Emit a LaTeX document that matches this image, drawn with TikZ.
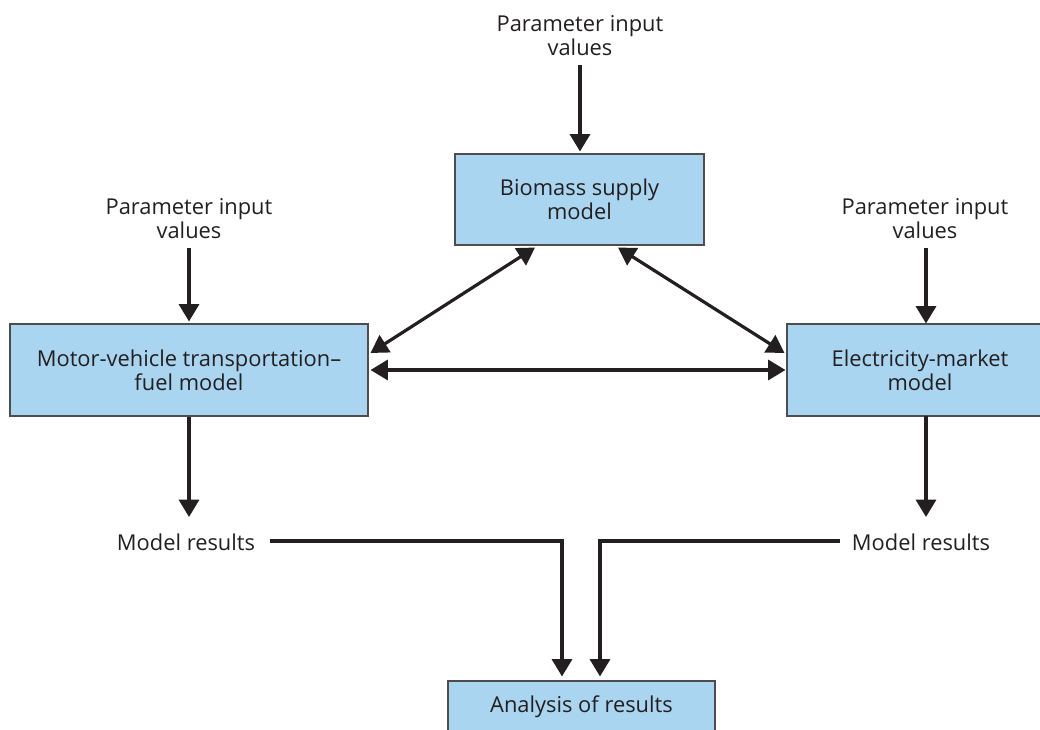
\documentclass[tikz,border=0pt]{standalone}
\usepackage{fontspec}
\setmainfont{Open Sans}
\usetikzlibrary{arrows.meta,calc}
\definecolor{boxblue}{RGB}{169,213,240}
\definecolor{ink}{RGB}{35,31,32}
\tikzset{
  box/.style={draw=ink!80,line width=0.8pt,fill=boxblue,text=ink,align=center,inner sep=0pt,font=\fontsize{16.4}{18}\selectfont},
  lbl/.style={text=ink,align=center,inner sep=0pt,font=\fontsize{16.4}{18}\selectfont},
  arr/.style={draw=ink,line width=2.4pt,-{Triangle[length=13pt,width=15pt]}},
  darr/.style={draw=ink,line width=2.4pt,{Triangle[length=13pt,width=15pt]}-{Triangle[length=13pt,width=15pt]}}
}
\begin{document}
\begin{tikzpicture}[x=0.75pt,y=-0.75pt]
\useasboundingbox (0,0) rectangle (1040,730);
\clip (0,0) rectangle (1040,730);
% boxes
\node[box,minimum width=186.75pt,minimum height=68.25pt] (bio) at (579.5,199.5) {Biomass supply\\model};
\node[box,minimum width=268.5pt,minimum height=69pt] (motor) at (189,370) {Motor-vehicle transportation–\\fuel model};
\node[box,minimum width=199.5pt,minimum height=69pt] (elec) at (920,370) {Electricity-market\\model};
\node[box,minimum width=200.25pt,minimum height=39pt] (ana) at (581.5,707) {Analysis of results};
% labels
\node[lbl] (p1) at (580,36) {Parameter input\\values};
\node[lbl] (p0) at (189,219) {Parameter input\\values};
\node[lbl] (p2) at (925,219) {Parameter input\\values};
\node[lbl] (mr1) at (186,542) {Model results};
\node[lbl] (mr2) at (921,542) {Model results};
% coordinates
\coordinate (p1b) at (580,65);
\coordinate (p0b) at (189,248);
\coordinate (p2b) at (926,248);
\coordinate (mr1t) at (189,517);
\coordinate (mr2t) at (926,517);
\coordinate (elecb) at (926,416);
\coordinate (mr1e) at (270,541);
\coordinate (mr2w) at (840,541);
% input arrows
\draw[arr] (p1b) -- ($(bio.north)+(0.5,-2)$);
\draw[arr] (p0b) -- ($(motor.north)+(0,-2)$);
\draw[arr] (p2b) -- (p2b |- elec.north);
% output arrows
\draw[arr] (motor.south) -- (mr1t);
\draw[arr] (elecb) -- (mr2t);
% two-way arrows
\draw[darr] ($(bio.south)+(-44.5,2)$) -- ($(motor.east)+(2,-17)$);
\draw[darr] ($(bio.south)+(38.5,2)$) -- ($(elec.west)+(-2,-17)$);
\draw[darr] ($(motor.east)+(2,0)$) -- ($(elec.west)+(-1,0)$);
% results to analysis
\draw[arr] (mr1e) -| ($(ana.north)+(-19.5,-4)$);
\draw[arr] (mr2w) -| ($(ana.north)+(18.5,-4)$);
\end{tikzpicture}
\end{document}
